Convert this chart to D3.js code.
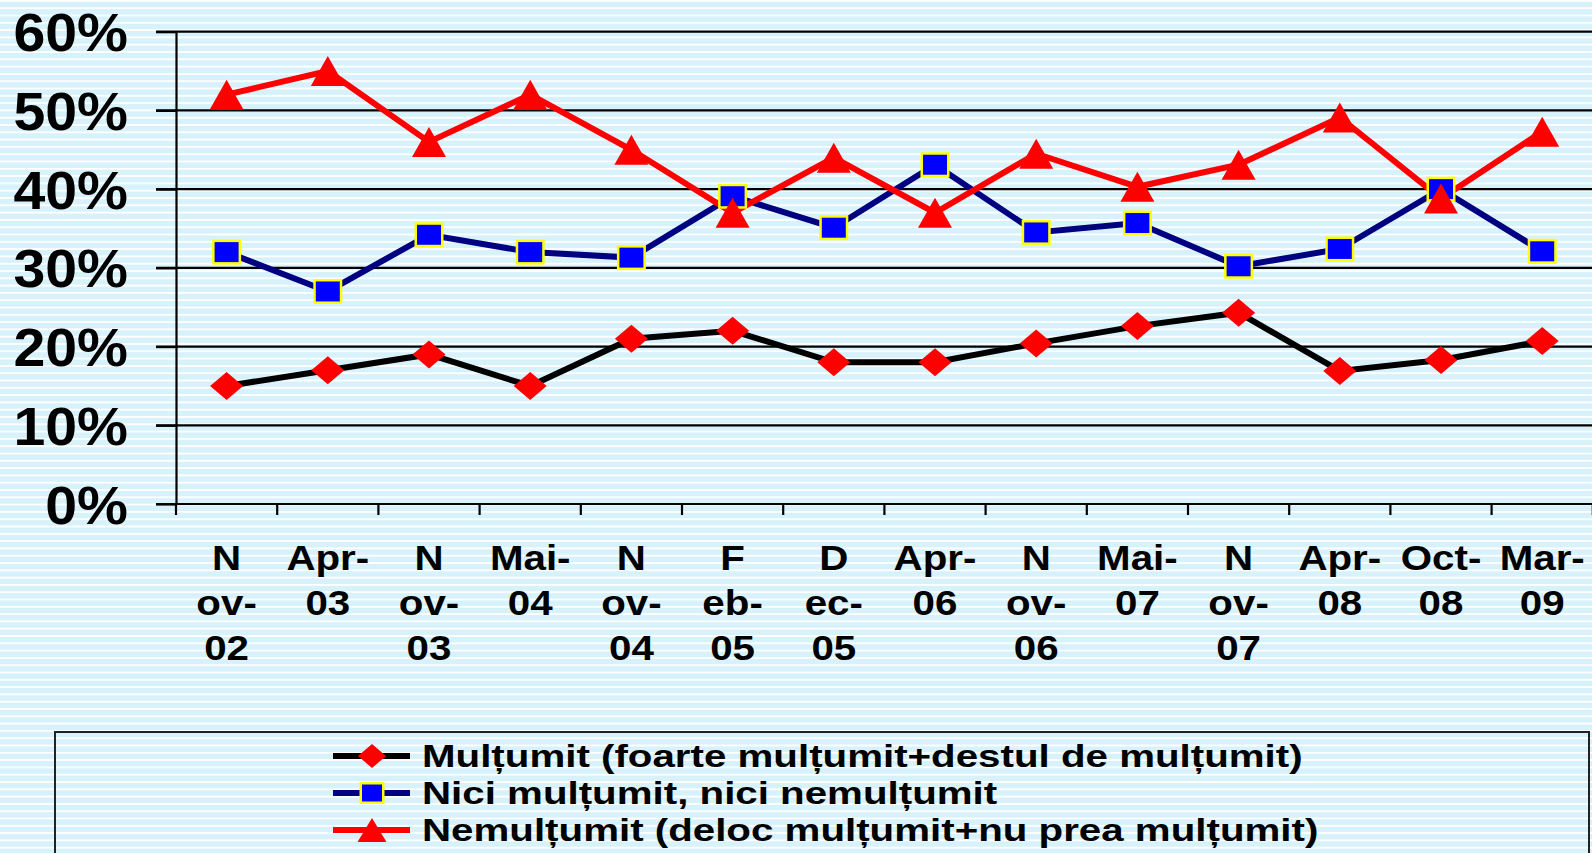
<!DOCTYPE html>
<html>
<head>
<meta charset="utf-8">
<script src="https://cdn.jsdelivr.net/npm/d3@7"></script>
<style>
  html, body { margin: 0; padding: 0; background: #d8f2fb; }
  svg { display: block; }
  text { font-family: "Liberation Sans", Arial, Helvetica, sans-serif; font-weight: bold; fill: #000; }
</style>
</head>
<body>
<script>
// ---- DATA ----
const categories = ["Nov-02","Apr-03","Nov-03","Mai-04","Nov-04","Feb-05","Dec-05","Apr-06","Nov-06","Mai-07","Nov-07","Apr-08","Oct-08","Mar-09"];
const tickLabelLines = [["N","ov-","02"],["Apr-","03"],["N","ov-","03"],["Mai-","04"],["N","ov-","04"],["F","eb-","05"],["D","ec-","05"],["Apr-","06"],["N","ov-","06"],["Mai-","07"],["N","ov-","07"],["Apr-","08"],["Oct-","08"],["Mar-","09"]];
const yTicks = [0,10,20,30,40,50,60];
const seriesNames = ["Mulțumit (foarte mulțumit+destul de mulțumit)","Nici mulțumit, nici nemulțumit","Nemulțumit (deloc mulțumit+nu prea mulțumit)"];
const multumit   = [15, 17, 19, 15, 21, 22, 18, 18, 20.4, 22.6, 24.3, 16.9, 18.3, 20.7];
const nici       = [32, 27, 34.2, 32, 31.3, 39.1, 35.1, 43.1, 34.5, 35.7, 30.2, 32.4, 40, 32.1];
const nemultumit = [52, 55, 46, 52, 45, 37, 44, 37, 44.5, 40.3, 43.1, 49.1, 38.8, 47.3];

const W = 1592, H = 853;
const svg = d3.select("body").append("svg").attr("width", W).attr("height", H);

// background stripes
const defs = svg.append("defs");
const pat = defs.append("pattern").attr("id","stripes").attr("patternUnits","userSpaceOnUse")
  .attr("width", 20).attr("height", 7.3);
pat.append("rect").attr("width",20).attr("height",7.3).attr("fill","#d8f2fb");
pat.append("rect").attr("y",0).attr("width",20).attr("height",1.8).attr("fill","#ffffff");
svg.append("rect").attr("width",W).attr("height",H).attr("fill","url(#stripes)");

// scales
const x0 = 176, bandW = 101.2;
const x = d3.scaleBand().domain(categories).range([x0, x0 + bandW*categories.length]).padding(0);
const y = d3.scaleLinear().domain([0,60]).range([504, 31.7]);
const cx = c => x(c) + x.bandwidth()/2;

// gridlines
svg.append("g").selectAll("line").data(yTicks.filter(d=>d>0)).join("line")
  .attr("x1", 156).attr("x2", W).attr("y1", d=>y(d)).attr("y2", d=>y(d))
  .attr("stroke","#000").attr("stroke-width",2.2);

// y axis
const yAxis = svg.append("g").attr("transform",`translate(${x0},0)`)
  .call(d3.axisLeft(y).tickValues(yTicks).tickFormat(d=>d+"%").tickSizeInner(20).tickSizeOuter(0).tickPadding(28));
yAxis.select(".domain").attr("stroke","#000").attr("stroke-width",2.2);
yAxis.selectAll(".tick line").attr("stroke","#000").attr("stroke-width",2.2);
yAxis.selectAll(".tick text").attr("font-size",53).attr("font-family",null).attr("fill","#000")
  .attr("dy","0.36em")
  .each(function(){
    const t = d3.select(this);
    const tx = +t.attr("x");
    t.attr("x", 0).attr("transform", `translate(${tx},0) scale(1.08,1)`);
  });

// x axis baseline and ticks at band boundaries
svg.append("line").attr("x1",156).attr("x2",W).attr("y1",y(0)).attr("y2",y(0))
  .attr("stroke","#000").attr("stroke-width",2.2);
const bounds = categories.map(c=>x(c)).concat([x.range()[1]]);
svg.append("g").selectAll("line").data(bounds).join("line")
  .attr("x1",d=>d).attr("x2",d=>d).attr("y1",y(0)).attr("y2",y(0)+11)
  .attr("stroke","#000").attr("stroke-width",2.2);

// x labels
const xl = svg.append("g").selectAll("text").data(categories).join("text")
  .attr("text-anchor","middle").attr("font-size",36)
  .attr("transform", c => `translate(${cx(c)},570) scale(1.12,1)`);
xl.each(function(c,i){
  const t = d3.select(this);
  tickLabelLines[i].forEach((s,j)=>{
    t.append("tspan").attr("x",0).attr("y", j*45).text(s);
  });
});

// lines
const seriesData = [multumit, nici, nemultumit];
const lineColors = ["#000000","#000080","#ff0000"];
const line = d3.line().x((d,i)=>cx(categories[i])).y(d=>y(d));
seriesData.forEach((s,k)=>{
  svg.append("path").datum(s).attr("d",line).attr("fill","none")
    .attr("stroke",lineColors[k]).attr("stroke-width",6).attr("stroke-linejoin","miter");
});

// markers
function diamond(g, px, py, w, h){
  g.append("path").attr("d",`M${px-w/2},${py}L${px},${py-h/2}L${px+w/2},${py}L${px},${py+h/2}Z`).attr("fill","#ff0000");
}
function square(g, px, py, w, h){
  g.append("rect").attr("x",px-w/2+1.25).attr("y",py-h/2+1.25).attr("width",w-2.5).attr("height",h-2.5)
    .attr("fill","#0000ff").attr("stroke","#ffff00").attr("stroke-width",2.5);
}
function triangle(g, px, py, w, h){
  g.append("path").attr("d",`M${px},${py-h/2}L${px+w/2},${py+h/2}L${px-w/2},${py+h/2}Z`).attr("fill","#ff0000");
}
const mk = svg.append("g");
multumit.forEach((v,i)=>diamond(mk, cx(categories[i]), y(v), 33, 28));
nici.forEach((v,i)=>square(mk, cx(categories[i]), y(v), 29, 25));
nemultumit.forEach((v,i)=>triangle(mk, cx(categories[i]), y(v), 34, 30));

// legend
svg.append("rect").attr("x",55).attr("y",732).attr("width",1589-55).attr("height",200)
  .attr("fill","none").attr("stroke","#222").attr("stroke-width",2);
const legY = [756, 793, 830];
const markerFns = [diamond, square, triangle];
const markerSizes = [[28,24],[25,22],[29,24]];
const lg = svg.append("g");
seriesNames.forEach((name,k)=>{
  lg.append("line").attr("x1",333).attr("x2",410).attr("y1",legY[k]).attr("y2",legY[k])
    .attr("stroke",lineColors[k]).attr("stroke-width",6);
  markerFns[k](lg, 372, legY[k], markerSizes[k][0], markerSizes[k][1]);
  lg.append("text").attr("font-size",31)
    .attr("transform",`translate(422,${legY[k]+11}) scale(1.30,1)`).text(name);
});
</script>
</body>
</html>
